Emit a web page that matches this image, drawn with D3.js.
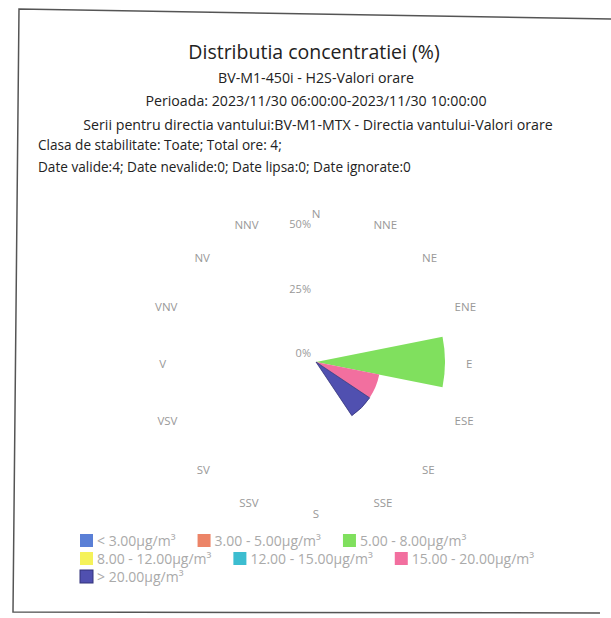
<!DOCTYPE html>
<html>
<head>
<meta charset="utf-8">
<script src="https://cdn.jsdelivr.net/npm/d3@7"></script>
<style>
  body { margin: 0; background: #fff; }
  svg { font-family: "Open Sans", "Noto Sans", sans-serif; }
</style>
</head>
<body>
<svg id="chart" width="611" height="618"></svg>
<script>
// wind directions (Romanian labels, clockwise from north)
const directions = ["N", "NNE", "NE", "ENE", "E", "ESE", "SE", "SSE",
                    "S", "SSV", "SV", "VSV", "V", "VNV", "NV", "NNV"];

const classLabels = ["< 3.00µg/m³", "3.00 - 5.00µg/m³", "5.00 - 8.00µg/m³",
                     "8.00 - 12.00µg/m³", "12.00 - 15.00µg/m³", "15.00 - 20.00µg/m³",
                     "> 20.00µg/m³"];
const classColors = ["#5a7fd6", "#ec8467", "#80e05e", "#f5f25a", "#3cbdd0", "#f26f9f", "#5050b0"];

// percentage per direction for each concentration class
const cls1 = [0, 0, 0, 0, 0, 0, 0, 0, 0, 0, 0, 0, 0, 0, 0, 0];
const cls2 = [0, 0, 0, 0, 0, 0, 0, 0, 0, 0, 0, 0, 0, 0, 0, 0];
const cls3 = [0, 0, 0, 0, 50, 0, 0, 0, 0, 0, 0, 0, 0, 0, 0, 0];
const cls4 = [0, 0, 0, 0, 0, 0, 0, 0, 0, 0, 0, 0, 0, 0, 0, 0];
const cls5 = [0, 0, 0, 0, 0, 0, 0, 0, 0, 0, 0, 0, 0, 0, 0, 0];
const cls6 = [0, 0, 0, 0, 0, 25, 0, 0, 0, 0, 0, 0, 0, 0, 0, 0];
const cls7 = [0, 0, 0, 0, 0, 0, 25, 0, 0, 0, 0, 0, 0, 0, 0, 0];
const seriesValues = [cls1, cls2, cls3, cls4, cls5, cls6, cls7];

const radialTicks = [0, 25, 50];

const titleText = "Distributia concentratiei (%)";
const subtitleLines = [
  "BV-M1-450i - H2S-Valori orare",
  "Perioada: 2023/11/30 06:00:00-2023/11/30 10:00:00",
  "Serii pentru directia vantului:BV-M1-MTX - Directia vantului-Valori orare"
];
const infoLines = [
  "Clasa de stabilitate: Toate; Total ore: 4;",
  "Date valide:4; Date nevalide:0; Date lipsa:0; Date ignorate:0"
];

const svg = d3.select("#chart");

// scanned page frame
svg.append("path")
  .attr("d", "M611,19 L19,9 L13,612 L600,613")
  .attr("fill", "none")
  .attr("stroke", "#555")
  .attr("stroke-width", 1.5);

// titles
svg.append("text")
  .attr("x", 314).attr("y", 59)
  .attr("text-anchor", "middle")
  .attr("font-size", 19.5)
  .attr("fill", "#222")
  .text(titleText);

const subY = [83, 105.5, 129.5];
svg.selectAll(".sub")
  .data(subtitleLines)
  .enter().append("text")
  .attr("class", "sub")
  .attr("x", (d, i) => i === 2 ? 318 : 316)
  .attr("y", (d, i) => subY[i])
  .attr("text-anchor", "middle")
  .attr("font-size", 14.2)
  .attr("fill", "#222")
  .text(d => d);

const infoY = [150, 171.5];
svg.selectAll(".info")
  .data(infoLines)
  .enter().append("text")
  .attr("class", "info")
  .attr("x", 38)
  .attr("y", (d, i) => infoY[i])
  .attr("font-size", 13.6)
  .attr("fill", "#222")
  .text(d => d);

// polar area
const cx = 316, cy = 362;
const r = d3.scaleLinear().domain([0, 50]).range([0, 129]);
const step = 2 * Math.PI / directions.length;
const angle = d3.scaleBand().domain(directions).range([-step / 2, 2 * Math.PI - step / 2]);
const mid = d => angle(d) + angle.bandwidth() / 2;

const g = svg.append("g").attr("transform", `translate(${cx},${cy})`);

// stack classes per direction
const stacked = [];
directions.forEach((dir, di) => {
  let base = 0;
  seriesValues.forEach((vals, si) => {
    const v = vals[di];
    if (v > 0) {
      stacked.push({ dir, si, y0: base, y1: base + v });
      base += v;
    }
  });
});

const arc = d3.arc()
  .innerRadius(d => r(d.y0))
  .outerRadius(d => r(d.y1))
  .startAngle(d => angle(d.dir))
  .endAngle(d => angle(d.dir) + angle.bandwidth());

g.selectAll(".wedge")
  .data(stacked)
  .enter().append("path")
  .attr("class", "wedge")
  .attr("d", arc)
  .attr("fill", d => classColors[d.si])
  .attr("stroke", d => d.si === 6 ? "#33337a" : "none")
  .attr("stroke-width", 0.8);

// radial tick labels
g.selectAll(".rtick")
  .data(radialTicks)
  .enter().append("text")
  .attr("class", "rtick")
  .attr("x", -5)
  .attr("y", d => -r(d) - 5)
  .attr("text-anchor", "end")
  .attr("font-size", 11)
  .attr("fill", "#999")
  .text(d => d + "%");

// direction labels: left aligned on the east side, right aligned on the west side
const labelR = 150;
g.selectAll(".dir")
  .data(directions)
  .enter().append("text")
  .attr("class", "dir")
  .attr("x", d => labelR * Math.sin(mid(d)))
  .attr("y", d => -labelR * Math.cos(mid(d)) + 2)
  .attr("dy", "0.35em")
  .attr("text-anchor", d => {
    const deg = mid(d) * 180 / Math.PI;
    if (deg > 15 && deg < 165) return "start";
    if (deg > 195 && deg < 345) return "end";
    return "middle";
  })
  .attr("font-size", 11.5)
  .attr("fill", "#999")
  .text(d => d);

// legend with flowing layout
const legend = svg.append("g").attr("class", "legend");
let lx = 80, ly = 541;
const rowH = 18, itemGap = 22, maxX = 565;
classLabels.forEach((lab, i) => {
  const item = legend.append("g");
  item.append("rect")
    .attr("width", 13).attr("height", 13)
    .attr("y", -7)
    .attr("fill", classColors[i])
    .attr("stroke", i === 6 ? "#33337a" : "none");
  const t = item.append("text")
    .attr("x", 17)
    .attr("dy", "0.35em")
    .attr("font-size", 14)
    .attr("fill", "#aaa")
    .text(lab);
  const w = 17 + t.node().getComputedTextLength();
  if (lx + w > maxX && lx > 80) {
    lx = 80;
    ly += rowH;
  }
  item.attr("transform", `translate(${lx},${ly})`);
  lx += w + itemGap;
});
</script>
</body>
</html>
